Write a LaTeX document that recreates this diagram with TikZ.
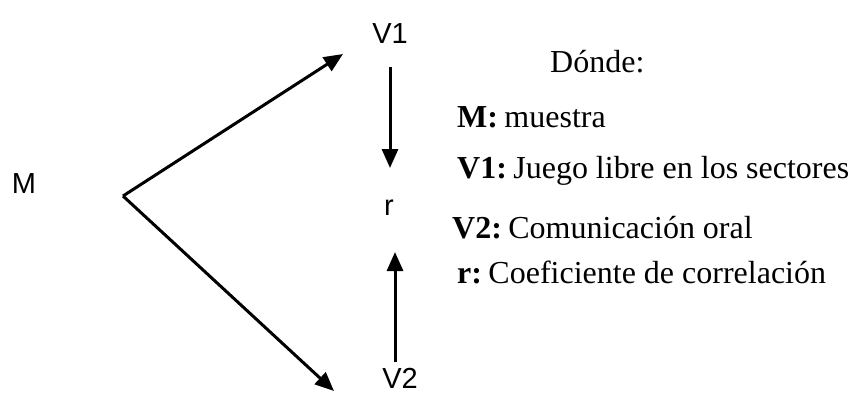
\documentclass[tikz,border=0pt]{standalone}
\usepackage{fontspec}
\setmainfont{Liberation Serif}
\newfontfamily\arialfont{Liberation Sans}
\usetikzlibrary{arrows.meta}
\tikzset{
  flecha/.style={line width=3pt,-{Triangle[length=19pt,width=16pt]}},
  etiq/.style={font=\arialfont\fontsize{29}{31}\selectfont,inner sep=0pt,anchor=base},
  leyenda/.style={font=\fontsize{32}{36}\selectfont,inner sep=0pt,anchor=base west}
}
\begin{document}
\begin{tikzpicture}[x=1pt,y=-1pt]
\useasboundingbox (0,0) rectangle (851,394);
\node[etiq] (M) at (24,193) {M};
\node[etiq] (V1) at (390,43) {V1};
\node[etiq] (r) at (389,215) {r};
\node[etiq] (V2) at (400,388) {V2};
\coordinate (o) at (123,196);
\coordinate (pV1) at (343,54);
\coordinate (pV2) at (334,391);
\coordinate (aV1) at (390,67);
\coordinate (bV1) at (390,168);
\coordinate (aV2) at (395,362);
\coordinate (bV2) at (395,252);
\draw[flecha] (o)--(pV1);
\draw[flecha] (o)--(pV2);
\draw[flecha] (aV1)--(bV1);
\draw[flecha] (aV2)--(bV2);
\node[leyenda] (donde) at (550,72) {Dónde:};
\node[leyenda] (lM) at (457,127) {\textbf{M:}\hspace{0.2em}muestra};
\node[leyenda] (lV1) at (457,178) {\textbf{V1:}\hspace{0.2em}Juego libre en los sectores};
\node[leyenda] (lV2) at (452,238) {\textbf{V2:}\hspace{0.2em}Comunicación oral};
\node[leyenda] (lr) at (457,283) {\textbf{r:}\hspace{0.2em}Coeficiente de correlación};
\end{tikzpicture}
\end{document}
